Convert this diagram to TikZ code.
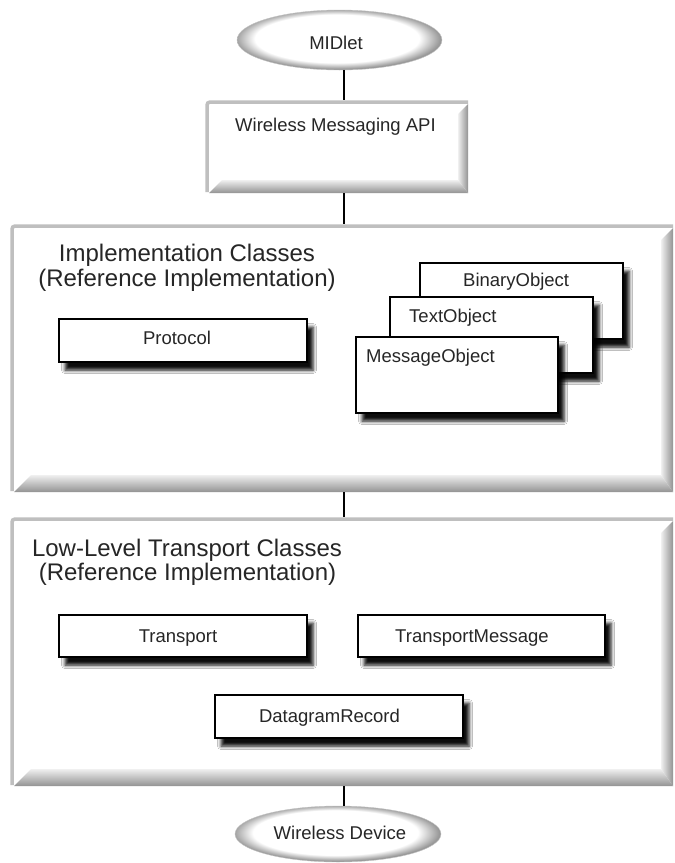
\documentclass[tikz,border=0pt]{standalone}
\usepackage{fontspec}
\setmainfont{Liberation Sans}
\usetikzlibrary{shadows.blur,shapes.geometric,fit}
\pgfdeclareradialshading{ovalsh}{\pgfpoint{-1bp}{2bp}}{color(0bp)=(white); color(20bp)=(white); color(25bp)=(black!40); color(50bp)=(black!40)}
\tikzset{
  cls/.style={draw=black, line width=1.3pt, fill=white, inner sep=0pt,
    blur shadow={shadow xshift=6pt, shadow yshift=-8pt, shadow blur radius=3.5pt, shadow opacity=95}},
  lbl/.style={font=\fontsize{18.5}{20}\selectfont, text=black!85, inner sep=0pt},
  ttl/.style={font=\fontsize{24}{25}\selectfont, text=black!85, inner sep=0pt, anchor=base},
  conn/.style={line width=1.2pt, black},
  oval/.style={ellipse, shading=ovalsh, draw=gray!45, line width=0.4pt, inner sep=0pt}
}
\newcommand\bevbox[7]{%
  \fill[white] (#2,#3) rectangle (#4,#5);
  \shade[top color=gray!12, bottom color=gray!85] ({#2+4},#5) -- ({#2+4+#7},{#5-#7}) -- ({#4-#6},{#5-#7}) -- (#4,#5) -- cycle;
  \shade[left color=gray!12, right color=gray!85] ({#4-#6},{#3+4+#6}) -- (#4,{#3+4}) -- (#4,#5) -- ({#4-#6},{#5-#7}) -- cycle;
  \draw[gray!50, line width=3.5pt, rounded corners=3pt] ({#2+2},{#5-1}) -- ({#2+2},{#3+2}) -- (#4,{#3+2});
  \node[fit={(#2,#3) (#4,#5)}, inner sep=0pt] (#1) {};
}
\begin{document}
\begin{tikzpicture}[x=1pt,y=-1pt]
\useasboundingbox (0,0) rectangle (675,863);
\fill[white] (0,0) rectangle (675,863);
\coordinate (spine) at (344,0);

% ellipses
\node[oval, minimum width=205pt, minimum height=60pt] (midlet) at (339.5,40) {};
\node[lbl, anchor=base] (midlet-t) at (336,49.5) {MIDlet};
\node[oval, minimum width=206pt, minimum height=56pt] (device) at (338,834) {};
\node[lbl, anchor=base] (device-t) at (340,839.5) {Wireless Device};

% bevelled boxes
\bevbox{wma}{205}{100}{468}{193}{10}{13}
\node[lbl, anchor=base west] (wma-t) at (235,131.5) {Wireless Messaging API};

\bevbox{impl}{10}{224}{673}{492}{12}{17}
\node[ttl] (impl-t1) at (187,261.6) {Implementation Classes};
\node[ttl] (impl-t2) at (187,286.6) {(Reference Implementation)};

\bevbox{low}{10}{517}{673}{786}{12}{17}
\node[ttl] (low-t1) at (187,556.6) {Low-Level Transport Classes};
\node[ttl] (low-t2) at (187.5,580.6) {(Reference Implementation)};

% class boxes
\node[cls, minimum width=248pt, minimum height=43pt] (protocol) at (183,340.5) {};
\node[lbl, anchor=base] (protocol-t) at (177,344.5) {Protocol};

\node[cls, minimum width=203pt, minimum height=76pt] (binary) at (521.5,301) {};
\node[lbl, anchor=base west] (binary-t) at (463,286.5) {BinaryObject};
\node[cls, minimum width=203pt, minimum height=76pt] (text) at (491.5,335) {};
\node[lbl, anchor=base west] (text-t) at (409,322.5) {TextObject};
\node[cls, minimum width=202pt, minimum height=76pt] (message) at (457,375) {};
\node[lbl, anchor=base west] (message-t) at (366,362.5) {MessageObject};

\node[cls, minimum width=248pt, minimum height=42pt] (transport) at (183,636) {};
\node[lbl, anchor=base] (transport-t) at (178,642.5) {Transport};
\node[cls, minimum width=247pt, minimum height=42pt] (tmsg) at (481.5,636) {};
\node[lbl, anchor=base] (tmsg-t) at (472,642.5) {TransportMessage};
\node[cls, minimum width=248pt, minimum height=43pt] (dgram) at (339,716.5) {};
\node[lbl, anchor=base] (dgram-t) at (329.5,722.5) {DatagramRecord};

% connectors
\draw[conn] (midlet.south -| spine) -- (wma.north -| spine);
\draw[conn] (wma.south -| spine) -- (impl.north -| spine);
\draw[conn] (impl.south -| spine) -- (low.north -| spine);
\draw[conn] (low.south -| spine) -- (device.north -| spine);
\end{tikzpicture}
\end{document}
